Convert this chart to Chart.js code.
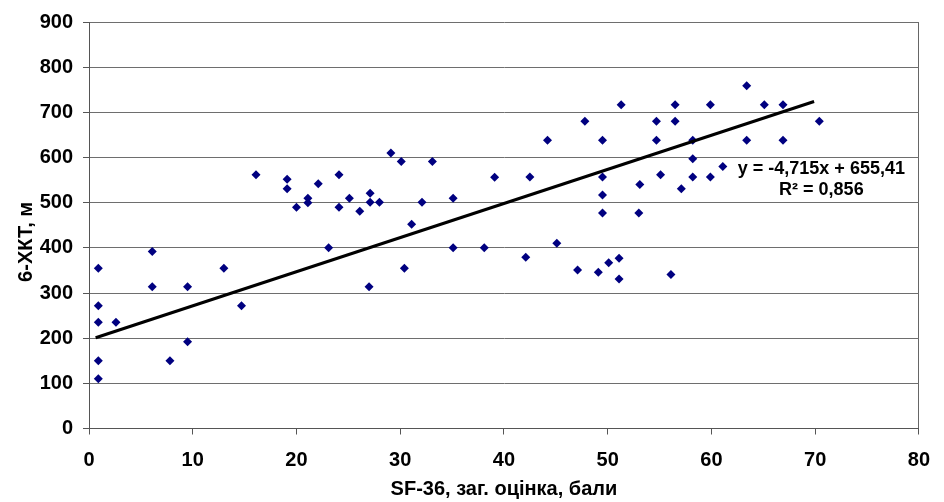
<!DOCTYPE html>
<html>
<head>
<meta charset="utf-8">
<script src="https://cdn.jsdelivr.net/npm/chart.js@4.4.1/dist/chart.umd.min.js"></script>
<style>
  html, body { margin: 0; padding: 0; background: #fff; }
  #wrap { width: 944px; height: 502px; }
</style>
</head>
<body>
<div id="wrap"><canvas id="myChart"></canvas></div>
<script>
// SF-36 total score (x) vs 6-minute walk distance (y)
const sfScore = [0.9, 0.9, 0.9, 0.9, 0.9, 2.6, 6.1, 6.1, 7.8, 9.5, 9.5, 13.0, 14.7, 16.1, 19.1, 19.1, 20.0, 21.1, 21.1, 22.1,
  23.1, 24.1, 24.1, 25.1, 26.1, 27.1, 27.1, 27.0, 28.0, 29.1, 30.1, 30.4, 31.1, 32.1, 33.1, 35.1, 35.1, 38.1, 39.1, 42.1,
  42.5, 44.2, 45.1, 47.1, 47.8, 49.1, 49.5, 49.5, 49.5, 49.5, 50.1, 51.1, 51.1, 51.3, 53.0, 53.1, 54.7, 54.7, 55.1, 56.1,
  56.5, 56.5, 57.1, 58.2, 58.2, 58.2, 59.9, 59.9, 61.1, 63.4, 63.4, 65.1, 66.9, 66.9, 70.4]
const walkDist = [355, 272, 235, 150, 110, 235, 392, 314, 150, 314, 192, 355, 272, 562, 552, 531, 490, 510, 500, 542,
  400, 562, 490, 510, 481, 521, 501, 314, 501, 610, 591, 355, 452, 501, 591, 510, 400, 400, 556, 379,
  557, 638, 410, 351, 680, 346, 638, 557, 517, 477, 367, 377, 331, 717, 477, 540, 680, 638, 562, 341,
  717, 680, 531, 638, 597, 557, 717, 557, 580, 759, 638, 717, 717, 638, 680]

// trend line ends as drawn
const trendX = [0.64, 69.9]
const trendY = [201, 724]

const eqLines = ['y = -4,715x + 655,41', 'R² = 0,856']
const eqAt = { x: 70.6, y: [575, 528] }

const xTitle = 'SF-36, заг. оцінка, бали'
// trailing spaces push the rotated title a bit lower, like the original
const yTitle = '6-ХКТ, м\u00a0\u00a0\u00a0\u00a0\u00a0\u00a0'

const fontFam = "'Liberation Sans', Arial, sans-serif"

const points = sfScore.map((v, i) => ({ x: v, y: walkDist[i] }))
const trend = trendX.map((v, i) => ({ x: v, y: trendY[i] }))

const eqLabel = {
  id: 'eqLabel',
  afterDatasetsDraw(chart) {
    const c = chart.ctx
    const xs = chart.scales.x, ys = chart.scales.y
    c.save()
    c.font = 'bold 18px ' + fontFam
    c.fillStyle = '#000'
    c.textAlign = 'center'
    c.textBaseline = 'middle'
    eqLines.forEach((t, i) => {
      c.fillText(t, xs.getPixelForValue(eqAt.x), ys.getPixelForValue(eqAt.y[i]))
    })
    c.restore()
  }
}

const ctx = document.querySelector('#myChart')

new Chart(ctx, {
  type: 'scatter',
  data: {
    datasets: [{
      label: 'trend',
      data: trend,
      showLine: true,
      borderColor: '#000',
      borderWidth: 3,
      pointRadius: 0,
      fill: false
    }, {
      label: '6-ХКТ',
      data: points,
      pointStyle: 'rectRot',
      pointRadius: 4.5,
      pointHoverRadius: 4.5,
      backgroundColor: '#000080',
      borderColor: '#000080',
      borderWidth: 0
    }]
  },
  options: {
    responsive: true,
    maintainAspectRatio: false,
    animation: false,
    layout: { padding: { top: 22, right: 14, left: 0, bottom: 0 } },
    plugins: {
      legend: { display: false },
      tooltip: { enabled: false }
    },
    scales: {
      x: {
        type: 'linear',
        min: 0,
        max: 80,
        afterFit: (s) => { s.height = 73.5 },
        ticks: {
          stepSize: 10,
          padding: 14,
          color: '#000',
          font: { family: fontFam, size: 20, weight: 'bold' }
        },
        grid: {
          color: (c) => c.tick && c.tick.value === 80 ? '#666' : 'rgba(0,0,0,0)',
          tickColor: '#555',
          tickLength: 6
        },
        border: { display: true, color: '#555' },
        title: {
          display: true,
          text: xTitle,
          color: '#000',
          padding: { top: 4, bottom: 1 },
          font: { family: fontFam, size: 20, weight: 'bold' }
        }
      },
      y: {
        min: 0,
        max: 900,
        afterFit: (s) => { s.width = 89 },
        ticks: {
          stepSize: 100,
          padding: 10,
          color: '#000',
          font: { family: fontFam, size: 20, weight: 'bold' }
        },
        grid: {
          color: '#6e6e6e',
          tickColor: '#555',
          tickLength: 6
        },
        border: { display: true, color: '#555' },
        title: {
          display: true,
          text: yTitle,
          color: '#000',
          padding: { top: 14, bottom: 0 },
          font: { family: fontFam, size: 20, weight: 'bold' }
        }
      }
    }
  },
  plugins: [eqLabel]
})
</script>
</body>
</html>
